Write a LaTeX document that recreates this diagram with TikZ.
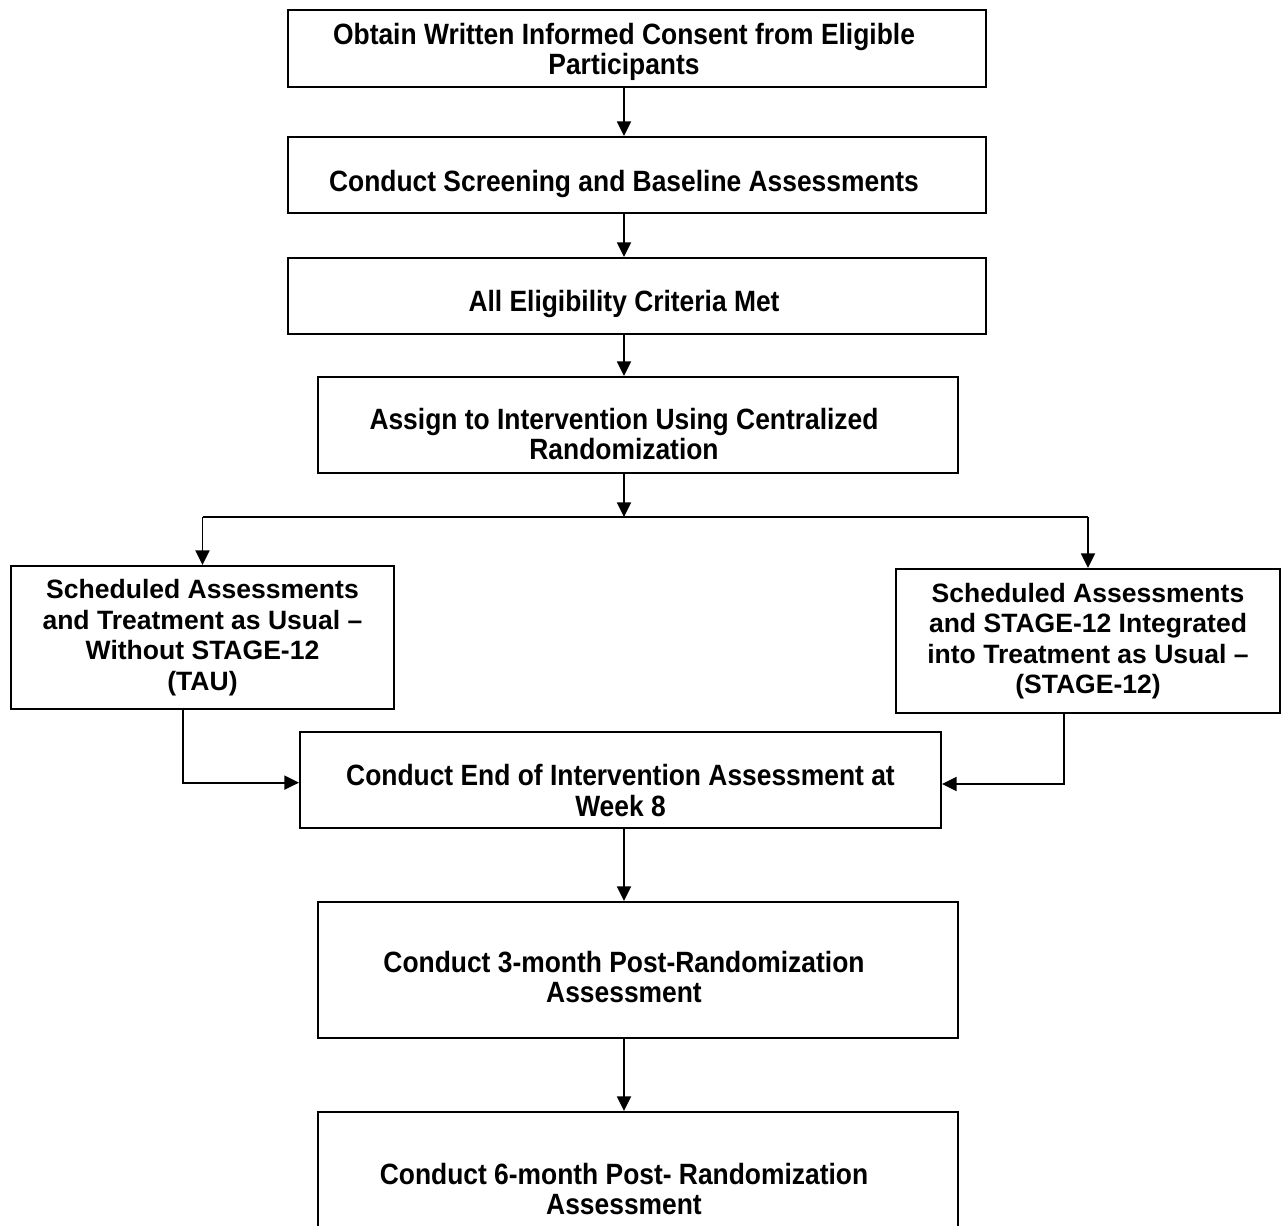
\documentclass[tikz,border=0pt]{standalone}
\usepackage{fontspec}
\setmainfont{Liberation Sans}
\newfontfamily\narrowsans[FakeStretch=0.9]{Liberation Sans}
\usetikzlibrary{arrows.meta}
% text block sitting left of the box centre
\newcommand{\offtext}[2]{\begin{tabular}{@{}c@{}}#2\end{tabular}\hspace*{#1}}

\begin{document}
\begin{tikzpicture}[x=0.75pt, y=-0.75pt,
    box/.style={draw, line width=1.5pt, inner sep=0pt},
    mainbox/.style={box, text depth=0pt, font=\narrowsans\bfseries\fontsize{22}{22.5}\selectfont},
    sidebox/.style={box, align=center, font=\bfseries\fontsize{19.9}{22.9}\selectfont},
    flow/.style={line width=1.4pt, -{Triangle[length=11pt, width=10.5pt]}}]
    \useasboundingbox (0,0) rectangle (1282,1226);
    \coordinate (spine) at (624,0);

    % Enrolment (3 wide boxes)
    \node[mainbox, text height=17.8pt, minimum width=523.5pt, minimum height=57.75pt] (consent) at (637,48.5)
        {\offtext{19.5pt}{Obtain Written Informed Consent from Eligible\\Participants}};
    \node[mainbox, text height=25.3pt, minimum width=523.5pt, minimum height=57pt] (screen) at (637,175)
        {\offtext{19.5pt}{Conduct Screening and Baseline Assessments}};
    \node[mainbox, text height=23.8pt, minimum width=523.5pt, minimum height=57pt] (eligible) at (637,296)
        {\offtext{19.5pt}{All Eligibility Criteria Met}};
    \draw[flow] (consent.south -| spine) -- (screen.north -| spine);
    \draw[flow] (screen.south -| spine) -- (eligible.north -| spine);

    % Randomization and split into the two arms
    \node[mainbox, text height=30.6pt, minimum width=480pt, minimum height=72pt] (assign) at (638,425)
        {\offtext{21pt}{Assign to Intervention Using Centralized\\Randomization}};
    \draw[flow] (eligible.south -| spine) -- (assign.north -| spine);
    \coordinate (split) at (624,517);
    \draw[flow] (assign.south -| spine) -- (split);

    \node[sidebox, minimum width=287.25pt, minimum height=107.25pt] (tau) at (202.5,637.5)
        {Scheduled Assessments\\and Treatment as Usual –\\Without STAGE-12\\(TAU)};
    \node[sidebox, minimum width=288pt, minimum height=108pt] (stage) at (1088,641)
        {Scheduled Assessments\\and STAGE-12 Integrated\\into Treatment as Usual –\\(STAGE-12)};
    \draw[line width=1.4pt] (split -| tau) -- (split -| stage);
    \draw[flow] (split -| tau) -- (tau);
    \draw[flow] (split -| stage) -- (stage);

    % End of intervention
    \node[mainbox, text height=32.8pt, minimum width=480.75pt, minimum height=72pt] (endtx) at (620.5,780)
        {\offtext{0pt}{Conduct End of Intervention Assessment at\\Week 8}};
    \draw[flow] ([xshift=-14.6pt]tau.south) |- ([yshift=-2pt]endtx.west);
    \draw[flow] ([xshift=-18pt]stage.south) |- ([yshift=-3pt]endtx.east);

    % Follow-up (3 and 6 months)
    \node[mainbox, text height=26.8pt, minimum width=480pt, minimum height=102pt] (month3) at (638,970)
        {\offtext{21pt}{Conduct 3-month Post-Randomization\\Assessment}};
    \node[mainbox, text height=26.8pt, minimum width=480pt, minimum height=105pt] (month6) at (638,1182)
        {\offtext{21pt}{Conduct 6-month Post- Randomization\\Assessment}};
    \draw[flow] (endtx.south -| spine) -- (month3.north -| spine);
    \draw[flow] (month3.south -| spine) -- (month6.north -| spine);
\end{tikzpicture}
\end{document}
